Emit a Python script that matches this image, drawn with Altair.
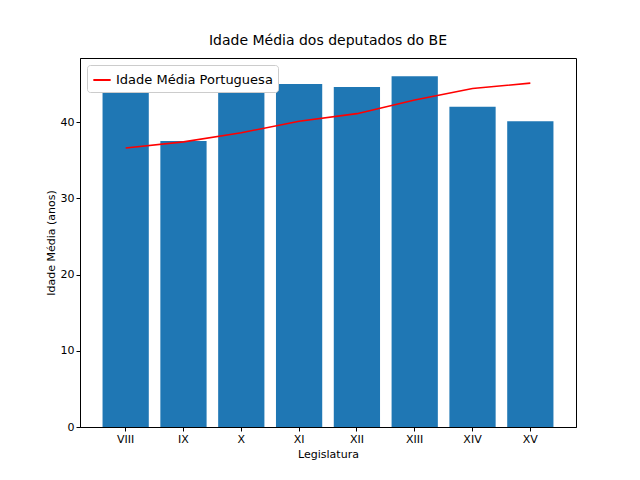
import pandas as pd
import altair as alt

legislaturas = ["VIII", "IX", "X", "XI", "XII", "XIII", "XIV", "XV"]
idade_be = [46.2, 37.5, 44.6, 45.0, 44.6, 46.0, 42.0, 40.1]
idade_pt = [36.6, 37.4, 38.6, 40.1, 41.1, 42.9, 44.4, 45.1]

df = pd.DataFrame({"leg": legislaturas, "be": idade_be, "pt": idade_pt,
                   "serie": "Idade Média Portuguesa"})

x = alt.X("leg:N", sort=legislaturas, title="Legislatura",
          scale=alt.Scale(paddingInner=0.2, paddingOuter=0.39),
          axis=alt.Axis(labelAngle=0, grid=False, tickSize=4))
yscale = alt.Scale(domain=[0, 48.4], nice=False)

bars = alt.Chart(df).mark_bar(color="#1f77b4").encode(
    x=x,
    y=alt.Y("be:Q", title="Idade Média (anos)", scale=yscale,
            axis=alt.Axis(values=[0, 10, 20, 30, 40], grid=False, tickSize=4)),
)

line = alt.Chart(df).mark_line(strokeWidth=1.6).encode(
    x=x,
    y=alt.Y("pt:Q", scale=yscale),
    color=alt.Color("serie:N", title=None,
                    scale=alt.Scale(range=["red"]),
                    legend=alt.Legend(orient="none", legendX=7, legendY=7,
                                      symbolType="stroke", symbolSize=300,
                                      symbolStrokeWidth=2, labelFontSize=13,
                                      strokeColor="#cccccc", fillColor="white",
                                      cornerRadius=3, padding=5)),
)

chart = (
    (bars + line)
    .properties(
        width=496, height=369,
        title=alt.TitleParams("Idade Média dos deputados do BE", fontSize=14,
                              fontWeight="normal", offset=10),
        autosize=alt.AutoSizeParams(type="none"),
        padding={"left": 72, "top": 50, "right": 56, "bottom": 45},
    )
    .configure(font="DejaVu Sans")
    .configure_axis(labelFontSize=11, titleFontSize=11, titleFontWeight="normal",
                    domainColor="black", tickColor="black", labelColor="black",
                    titleColor="black")
    .configure_view(stroke="black", strokeWidth=1)
)

chart.save("out.html", embed_options={"renderer": "svg", "actions": False})
